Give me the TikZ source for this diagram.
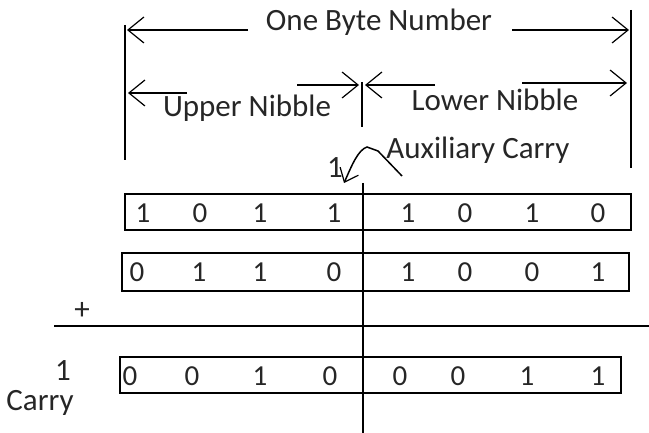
\documentclass[tikz,border=0pt]{standalone}
\usepackage{fontspec}
\setmainfont{Carlito}
\usetikzlibrary{arrows.meta}
\begin{document}
\begin{tikzpicture}[x=1pt,y=-1pt,line width=1.5pt,
  lbl/.style={font=\fontsize{31}{33}\selectfont,inner sep=0pt,text=black!85},
  bit/.style={font=\fontsize{29}{31}\selectfont,inner sep=0pt,text=black!85},
  dim/.style={-{Straight Barb[length=16pt,width=26pt,line width=1.2pt]}},
  regbox/.style={draw,inner sep=0pt}]
\useasboundingbox (0,0) rectangle (649,433);

% extent marks
\draw (125,25) -- (125,160);
\draw (631,10) -- (631,168);
\draw (362,82) -- (362,127);
\draw (363,183) -- (363,433);

% one byte
\node[lbl] (obn) at (379,22) {One Byte Number};
\coordinate (obnL) at (248,30);
\coordinate (obnLe) at (127,30);
\coordinate (obnR) at (512,30);
\coordinate (obnRe) at (629,30);
\draw[dim] (obnL) -- (obnLe);
\draw[dim] (obnR) -- (obnRe);

% nibbles
\node[lbl] (up) at (247,108) {Upper Nibble};
\node[lbl] (lo) at (495,100) {Lower Nibble};
\coordinate (upL) at (187,93);
\coordinate (upLe) at (128,93);
\coordinate (upR) at (297,85);
\coordinate (upRe) at (359,85);
\coordinate (loL) at (435,85);
\coordinate (loLe) at (365,85);
\coordinate (loR) at (522,83);
\coordinate (loRe) at (627,83);
\draw[dim] (upL) -- (upLe);
\draw[dim] (upR) -- (upRe);
\draw[dim] (loL) -- (loLe);
\draw[dim] (loR) -- (loRe);

% auxiliary carry
\node[lbl] (aux) at (478,150) {Auxiliary Carry};
\node[lbl] (one) at (335,168) {1};
\coordinate (auxS) at (402,176);
\coordinate (auxE) at (344,183);
\draw[-{Straight Barb[length=12pt,width=20pt,line width=1.2pt]}]
  (auxS) -- (378,151) -- (367,147) .. controls (358,150) and (352,165) .. (auxE);

% operands and result
\node[regbox,minimum width=506pt,minimum height=36pt] (r1) at (378,212) {};
\node[regbox,minimum width=507pt,minimum height=38pt] (r2) at (375.5,272) {};
\node[regbox,minimum width=501pt,minimum height=36pt] (r3) at (370.5,375) {};

\foreach \x/\b [count=\i] in {143/1,200/0,260/1,334/1,408/1,465/0,532/1,598/0}
  \node[bit] (a\i) at (\x,213) {\b};
\foreach \x/\b [count=\i] in {137/0,199/1,260/1,334/0,408/1,465/0,532/0,598/1}
  \node[bit] (b\i) at (\x,272) {\b};
\foreach \x/\b [count=\i] in {130/0,192/0,260/1,330/0,400/0,458/0,527/1,598/1}
  \node[bit] (c\i) at (\x,376) {\b};

\node[lbl] (plus) at (82,311) {+};
\coordinate (sumL) at (54,326);
\coordinate (sumR) at (649,326);
\draw (sumL) -- (sumR);

\node[lbl] (cy) at (63,371) {1};
\node[lbl] (cyt) at (40,403) {Carry};
\end{tikzpicture}
\end{document}
